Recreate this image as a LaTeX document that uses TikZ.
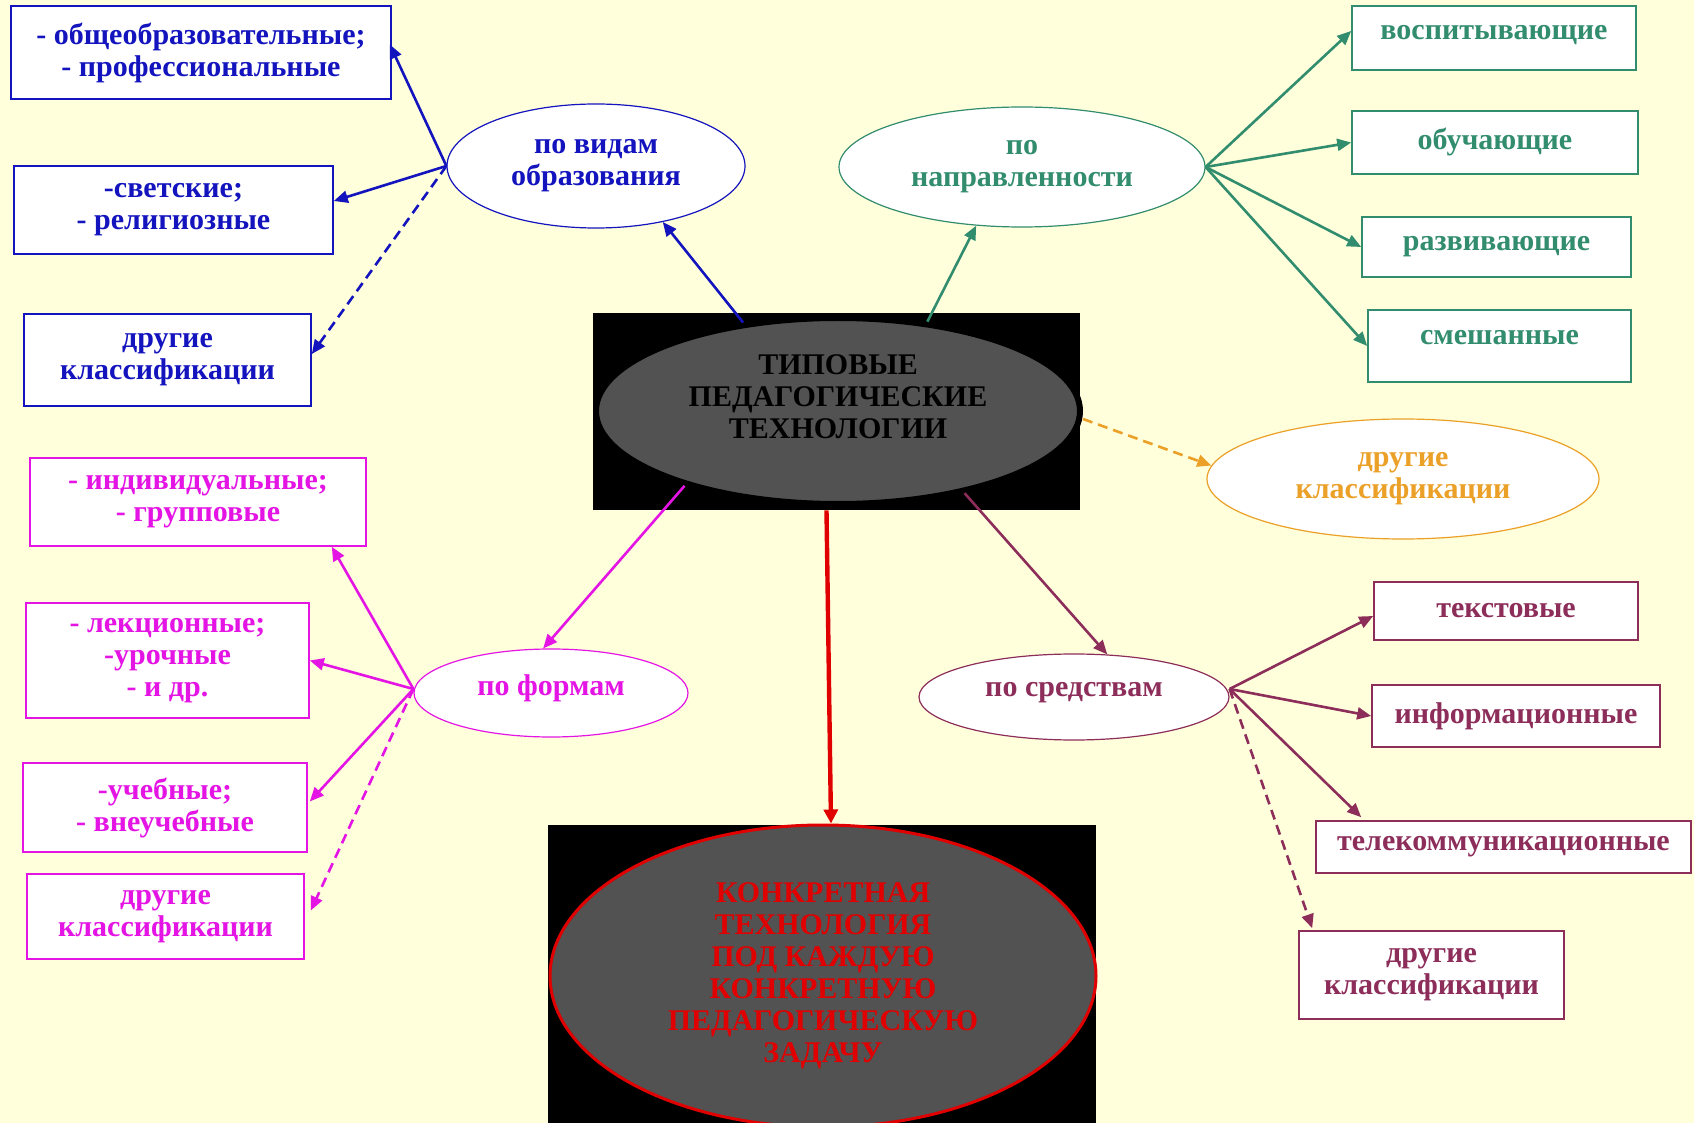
\documentclass[tikz,border=0pt]{standalone}
\usepackage{fontspec}
\setmainfont{Liberation Serif}
\usetikzlibrary{shapes.geometric,arrows.meta,calc}
\definecolor{bg}{RGB}{255,255,220}
\definecolor{cblue}{RGB}{20,20,190}
\definecolor{cgreen}{RGB}{50,140,110}
\definecolor{corange}{RGB}{235,160,40}
\definecolor{cmag}{RGB}{228,20,228}
\definecolor{cmar}{RGB}{140,45,90}
\definecolor{cred}{RGB}{225,0,0}
\definecolor{cgray}{RGB}{82,82,82}
\tikzset{
  txt/.style={font=\bfseries\fontsize{15}{16}\selectfont, align=center},
  box/.style={draw, fill=white, line width=0.8pt, txt, inner sep=0pt},
  ell/.style={ellipse, draw, fill=white, line width=0.6pt, txt, inner sep=0pt},
  arr/.style={line width=1.3pt, -{Triangle[length=7pt,width=6pt]}},
  darr/.style={arr, dash pattern=on 5pt off 3pt},
}
\begin{document}
\begin{tikzpicture}[x=0.5pt,y=-0.5pt]
\useasboundingbox (0,0) rectangle (1694,1123);
\fill[bg] (0,0) rectangle (1694,1123);

% central
\node[fill=black, minimum width=243.5pt, minimum height=98.5pt, inner sep=0pt] (crect) at (836.5,411.5) {};
\node[ellipse, fill=cgray, draw=black, line width=3pt, minimum width=242pt, minimum height=93pt, inner sep=0pt] (cell) at (838,411) {};
\node[txt, text=black] (ctext) at (838,397) {ТИПОВЫЕ\\ПЕДАГОГИЧЕСКИЕ\\ТЕХНОЛОГИИ};

% bottom
\node[fill=black, minimum width=274pt, minimum height=149pt, inner sep=0pt] (brect) at (822,974) {};
\node[ellipse, fill=cgray, draw=cred, line width=1.5pt, minimum width=273pt, minimum height=151pt, inner sep=0pt, txt, text=cred] (bell) at (823,976) {КОНКРЕТНАЯ\\ТЕХНОЛОГИЯ\\ПОД КАЖДУЮ\\КОНКРЕТНУЮ\\ПЕДАГОГИЧЕСКУЮ\\ЗАДАЧУ};

% blue group
\begin{scope}[every node/.append style={draw=cblue, text=cblue}]
\node[box, minimum width=190pt, minimum height=46.5pt] (b1) at (201,52.5) {- общеобразовательные;\\- профессиональные};
\node[box, minimum width=159.5pt, minimum height=44pt] (b2) at (173.5,210) {-светские;\\- религиозные};
\node[box, minimum width=143.5pt, minimum height=46pt] (b3) at (167.5,360) {другие\\классификации};
\node[ell, minimum width=149pt, minimum height=62pt] (vid) at (596,166) {по видам\\образования};
\end{scope}
\draw[arr, cblue] (cell.137) -- (vid.-40);
\draw[arr, cblue] (vid.west) -- ($(b1.east)+(-2,-8)$);
\draw[arr, cblue] (vid.west) -- ($(b2.east)+(0,-9)$);
\draw[darr, cblue] (vid.west) -- ($(b3.east)+(0,-6)$);

% green group
\begin{scope}[every node/.append style={draw=cgreen, text=cgreen}]
\node[box, minimum width=142pt, minimum height=32pt, text depth=6pt] (g1) at (1494,38) {воспитывающие};
\node[box, minimum width=143pt, minimum height=31.5pt] (g2) at (1495,142.5) {обучающие};
\node[box, minimum width=134.5pt, minimum height=30pt] (g3) at (1496.5,247) {развивающие};
\node[box, minimum width=131.5pt, minimum height=36pt, text depth=9pt] (g4) at (1499.5,346) {смешанные};
\node[ell, minimum width=183pt, minimum height=60pt] (nap) at (1022,167) {по\\направленности};
\end{scope}
\draw[arr, cgreen] (cell.45) -- (nap.232);
\draw[arr, cgreen] (nap.east) -- ($(g1.west)+(0,-7)$);
\draw[arr, cgreen] (nap.east) -- (g2.west);
\draw[arr, cgreen] (nap.east) -- (g3.west);
\draw[arr, cgreen] (nap.east) -- (g4.west);

% orange
\node[ell, draw=corange, text=corange, minimum width=196pt, minimum height=60pt] (oth) at (1403,479) {другие\\классификации};
\draw[darr, corange] ($(cell.east)+(0,8)$) -- (oth.176);

% magenta group
\begin{scope}[every node/.append style={draw=cmag, text=cmag}]
\node[box, minimum width=168pt, minimum height=44pt] (m1) at (198,502) {- индивидуальные;\\- групповые};
\node[box, minimum width=141.5pt, minimum height=57.5pt] (m2) at (167.5,660.5) {- лекционные;\\-урочные\\- и др.};
\node[box, minimum width=142pt, minimum height=44.5pt] (m3) at (165,807.5) {-учебные;\\- внеучебные};
\node[box, minimum width=138.5pt, minimum height=42.5pt] (m4) at (165.5,916.5) {другие\\классификации};
\node[ell, minimum width=137pt, minimum height=44pt, text depth=7.5pt] (form) at (551,693) {по формам};
\end{scope}
\draw[arr, cmag] (cell.206) -- (form.100);
\draw[arr, cmag] ($(form.west)+(0,-4)$) -- ($(m1.south east)+(-35,0)$);
\draw[arr, cmag] ($(form.west)+(0,-4)$) -- (m2.east);
\draw[arr, cmag] ($(form.west)+(0,-4)$) -- ($(m3.east)+(2,-6)$);
\draw[darr, cmag] ($(form.west)+(0,-4)$) -- ($(m4.east)+(6,-6)$);

% maroon group
\begin{scope}[every node/.append style={draw=cmar, text=cmar}]
\node[box, minimum width=132pt, minimum height=29pt] (t1) at (1506,611) {текстовые};
\node[box, minimum width=144pt, minimum height=31pt] (t2) at (1516,716) {информационные};
\node[box, minimum width=187.5pt, minimum height=26pt] (t3) at (1503.5,847) {телекоммуникационные};
\node[box, minimum width=132.5pt, minimum height=44pt] (t4) at (1431.5,975) {другие\\классификации};
\node[ell, minimum width=155pt, minimum height=43pt, text depth=7.5pt] (sred) at (1074,697) {по средствам};
\end{scope}
\draw[arr, cmar] (cell.-33) -- (sred.52);
\draw[arr, cmar] ($(sred.east)+(0,-8)$) -- ($(t1.west)+(0,5)$);
\draw[arr, cmar] ($(sred.east)+(0,-8)$) -- (t2.west);
\draw[arr, cmar] ($(sred.east)+(0,-8)$) -- ($(t3.north west)+(46,-3)$);
\draw[darr, cmar] ($(sred.east)+(0,-8)$) -- ($(t4.north west)+(14,-2)$);

% red
\draw[line width=2.2pt, cred, -{Triangle[length=7pt,width=7pt]}] ($(crect.south)+(-10,0)$) -- ($(bell.north)+(8,0)$);
\end{tikzpicture}
\end{document}
